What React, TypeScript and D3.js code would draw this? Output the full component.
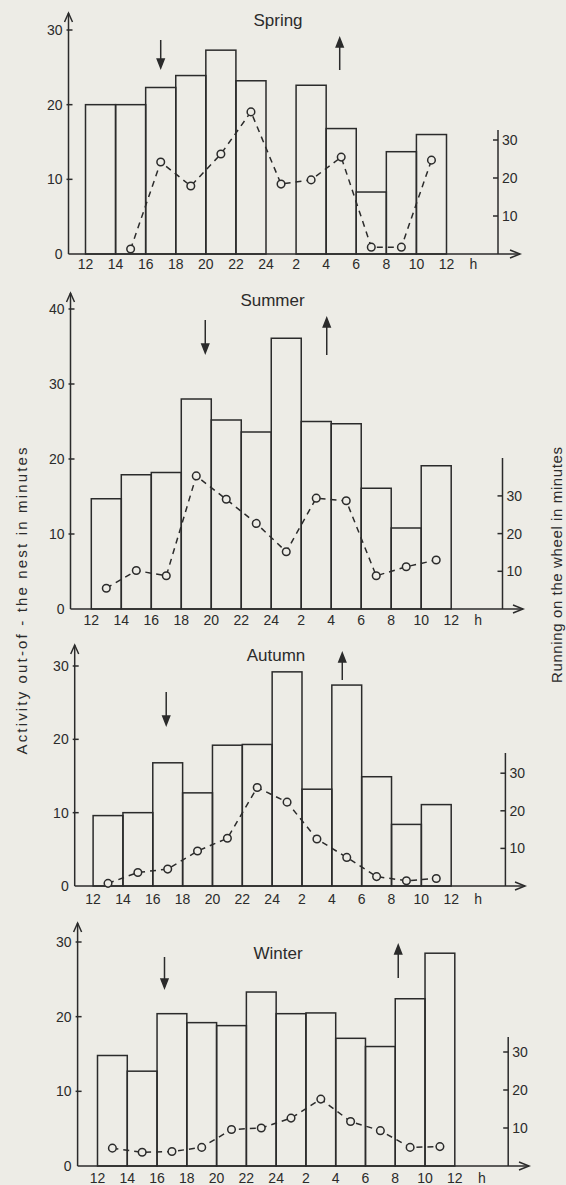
import { useEffect, useRef } from 'react';
import * as d3 from 'd3';

// x-axis labels, every 2 h starting at noon
const hourLabels = ['12', '14', '16', '18', '20', '22', '24', '2', '4', '6', '8', '10', '12'];

// activity out of the nest (bars, left axis), one value per 2-h bin
const springActivity = [20.0, 20.0, 22.3, 23.9, 27.3, 23.2, 0, 22.6, 16.8, 8.3, 13.7, 16.0];
const summerActivity = [14.7, 17.9, 18.2, 28.0, 25.2, 23.6, 36.1, 25.0, 24.7, 16.1, 10.8, 19.1];
const autumnActivity = [9.6, 10.0, 16.8, 12.7, 19.2, 19.3, 29.2, 13.2, 27.4, 14.9, 8.4, 11.1];
const winterActivity = [14.8, 12.7, 20.4, 19.2, 18.8, 23.3, 20.4, 20.5, 17.1, 16.0, 22.4, 28.5];

// running on the wheel (dashed line, right axis), bin midpoints
const springWheel = [null, 1.3, 24.2, 17.9, 26.3, 37.4, 18.4, 19.5, 25.5, 1.8, 1.8, 24.7];
const summerWheel = [5.5, 10.2, 8.8, 35.3, 29.1, 22.7, 15.2, 29.4, 28.7, 8.8, 11.2, 13.0];
const autumnWheel = [0.7, 3.6, 4.5, 9.3, 12.7, 26.2, 22.3, 12.5, 7.6, 2.5, 1.4, 2.0];
const winterWheel = [4.7, 3.6, 3.8, 4.9, 9.6, 10.0, 12.6, 17.6, 11.7, 9.3, 4.9, 5.1];

// sunset / sunrise, hours after noon
const springSun = [5.0, 16.9];
const summerSun = [7.6, 15.7];
const autumnSun = [4.9, 16.7];
const winterSun = [4.5, 20.2];

const leftTicks30 = [0, 10, 20, 30];
const leftTicks40 = [0, 10, 20, 30, 40];
const rightTicks = [10, 20, 30];

const bg = '#edece6';
const ink = '#2b2b2b';
const font = "'Liberation Sans Narrow', 'Liberation Sans', Arial, sans-serif";

type Panel = {
  title: string;
  activity: number[];
  wheel: (number | null)[];
  sun: number[];
  leftTicks: number[];
  axisX: number;
  x0: number;
  x1: number;
  base: number;
  topPx: number;
  axisTop: number;
  rightX: number;
  rightTop: number;
  rightPx: number;
  arrowEnd: number;
  labelDy: number;
  titleX: number;
  titleY: number;
  downY: [number, number];
  upY: [number, number];
};

const panels: Panel[] = [
  {
    title: 'Spring', activity: springActivity, wheel: springWheel, sun: springSun, leftTicks: leftTicks30,
    axisX: 68.5, x0: 85.5, x1: 446.5, base: 254, topPx: 30, axisTop: 13,
    rightX: 498, rightTop: 130, rightPx: 3.8, arrowEnd: 520, labelDy: 10, titleX: 278, titleY: 20,
    downY: [40, 68], upY: [38, 70],
  },
  {
    title: 'Summer', activity: summerActivity, wheel: summerWheel, sun: summerSun, leftTicks: leftTicks40,
    axisX: 70.5, x0: 91.3, x1: 451.2, base: 609, topPx: 309, axisTop: 293,
    rightX: 502.5, rightTop: 458, rightPx: 3.77, arrowEnd: 523, labelDy: 11, titleX: 272.5, titleY: 300,
    downY: [320, 353], upY: [318, 355],
  },
  {
    title: 'Autumn', activity: autumnActivity, wheel: autumnWheel, sun: autumnSun, leftTicks: leftTicks30,
    axisX: 74.7, x0: 93.1, x1: 451.2, base: 886, topPx: 666, axisTop: 645,
    rightX: 505.4, rightTop: 753, rightPx: 3.76, arrowEnd: 525, labelDy: 13, titleX: 276, titleY: 655,
    downY: [692, 725], upY: [653, 680],
  },
  {
    title: 'Winter', activity: winterActivity, wheel: winterWheel, sun: winterSun, leftTicks: leftTicks30,
    axisX: 77.6, x0: 97.5, x1: 454.8, base: 1166, topPx: 942, axisTop: 923,
    rightX: 508.2, rightTop: 1037, rightPx: 3.8, arrowEnd: 529, labelDy: 12.5, titleX: 278, titleY: 953,
    downY: [957, 988], upY: [945, 978],
  },
];

const svgWidth = 566;
const svgHeight = 1185;

function drawPanel(svg: d3.Selection<SVGSVGElement, unknown, null, undefined>, p: Panel) {
  const g = svg.append('g').attr('stroke', ink).attr('fill', 'none').attr('stroke-width', 1.5);

  const x = d3.scaleLinear().domain([0, 24]).range([p.x0, p.x1]);
  const leftMax = p.leftTicks[p.leftTicks.length - 1];
  const y = d3.scaleLinear().domain([0, leftMax]).range([p.base, p.topPx]);
  const yR = d3.scaleLinear().domain([0, 30]).range([p.base, p.base - 30 * p.rightPx]);

  // bars
  g.append('g')
    .selectAll('rect')
    .data(p.activity.map((v, i) => ({ v, i })).filter((d) => d.v > 0))
    .join('rect')
    .attr('x', (d) => x(d.i * 2))
    .attr('y', (d) => y(d.v))
    .attr('width', (d) => x(d.i * 2 + 2) - x(d.i * 2))
    .attr('height', (d) => y(0) - y(d.v));

  // left axis with open arrow
  g.append('line').attr('x1', p.axisX).attr('x2', p.axisX).attr('y1', p.base).attr('y2', p.axisTop);
  g.append('polyline').attr('points', `${p.axisX - 4},${p.axisTop + 9} ${p.axisX},${p.axisTop} ${p.axisX + 4},${p.axisTop + 9}`);
  g.append('g')
    .selectAll('line')
    .data(p.leftTicks.filter((t) => t > 0))
    .join('line')
    .attr('x1', p.axisX - 2)
    .attr('x2', p.axisX + 4)
    .attr('y1', (d) => y(d))
    .attr('y2', (d) => y(d));
  svg.append('g')
    .selectAll('text')
    .data(p.leftTicks)
    .join('text')
    .attr('x', p.axisX - 6)
    .attr('y', (d) => y(d))
    .attr('dy', '0.35em')
    .attr('text-anchor', 'end')
    .attr('font-family', font)
    .attr('font-size', 14)
    .attr('fill', ink)
    .text((d) => d);

  // x axis with open arrow
  g.append('line').attr('x1', p.axisX).attr('x2', p.arrowEnd).attr('y1', p.base).attr('y2', p.base);
  g.append('polyline').attr('points', `${p.arrowEnd - 10},${p.base - 4} ${p.arrowEnd},${p.base} ${p.arrowEnd - 10},${p.base + 4}`);
  svg.append('g')
    .selectAll('text')
    .data(hourLabels)
    .join('text')
    .attr('x', (_, i) => x(i * 2))
    .attr('y', p.base + p.labelDy)
    .attr('dy', '0.35em')
    .attr('text-anchor', 'middle')
    .attr('font-family', font)
    .attr('font-size', 14)
    .attr('fill', ink)
    .text((d) => d);
  svg.append('text')
    .attr('x', p.x1 + 27)
    .attr('y', p.base + p.labelDy)
    .attr('dy', '0.35em')
    .attr('text-anchor', 'middle')
    .attr('font-family', font)
    .attr('font-size', 14)
    .attr('fill', ink)
    .text('h');

  // right axis
  g.append('line').attr('x1', p.rightX).attr('x2', p.rightX).attr('y1', p.base).attr('y2', p.rightTop);
  g.append('g')
    .selectAll('line')
    .data(rightTicks)
    .join('line')
    .attr('x1', p.rightX - 5)
    .attr('x2', p.rightX)
    .attr('y1', (d) => yR(d))
    .attr('y2', (d) => yR(d));
  svg.append('g')
    .selectAll('text')
    .data(rightTicks)
    .join('text')
    .attr('x', p.rightX + 4)
    .attr('y', (d) => yR(d))
    .attr('dy', '0.35em')
    .attr('font-family', font)
    .attr('font-size', 14)
    .attr('fill', ink)
    .text((d) => d);

  // wheel running, dashed line with open circles
  const pts = p.wheel
    .map((v, i) => ({ v, i }))
    .filter((d) => d.v !== null) as { v: number; i: number }[];
  const line = d3
    .line<{ v: number; i: number }>()
    .x((d) => x(d.i * 2 + 1))
    .y((d) => yR(d.v));
  g.append('path').attr('d', line(pts)).attr('stroke-dasharray', '6,5');
  g.append('g')
    .selectAll('circle')
    .data(pts)
    .join('circle')
    .attr('cx', (d) => x(d.i * 2 + 1))
    .attr('cy', (d) => yR(d.v))
    .attr('r', 3.8)
    .attr('fill', bg);

  // sunset (down) and sunrise (up) arrows
  const [sunset, sunrise] = p.sun;
  const dx = x(sunset);
  g.append('line').attr('x1', dx).attr('x2', dx).attr('y1', p.downY[0]).attr('y2', p.downY[1] - 6);
  g.append('path')
    .attr('d', `M${dx - 3.5},${p.downY[1] - 9} L${dx + 3.5},${p.downY[1] - 9} L${dx},${p.downY[1]} Z`)
    .attr('fill', ink);
  const ux = x(sunrise);
  g.append('line').attr('x1', ux).attr('x2', ux).attr('y1', p.upY[1]).attr('y2', p.upY[0] + 6);
  g.append('path')
    .attr('d', `M${ux - 3.5},${p.upY[0] + 9} L${ux + 3.5},${p.upY[0] + 9} L${ux},${p.upY[0]} Z`)
    .attr('fill', ink);

  // title
  svg.append('text')
    .attr('x', p.titleX)
    .attr('y', p.titleY)
    .attr('dy', '0.35em')
    .attr('text-anchor', 'middle')
    .attr('font-family', font)
    .attr('font-size', 17)
    .attr('fill', ink)
    .text(p.title);
}

function App() {
  const ref = useRef<SVGSVGElement>(null);

  useEffect(() => {
    const svg = d3.select(ref.current as SVGSVGElement);
    svg.selectAll('*').remove();

    svg.append('rect').attr('width', svgWidth).attr('height', svgHeight).attr('fill', bg);

    panels.forEach((p) => drawPanel(svg, p));

    // shared axis titles
    svg.append('text')
      .attr('transform', 'translate(22, 601) rotate(-90)')
      .attr('text-anchor', 'middle')
      .attr('dy', '0.35em')
      .attr('font-family', font)
      .attr('font-size', 15)
      .attr('fill', ink)
      .attr('textLength', 307)
      .attr('lengthAdjust', 'spacing')
      .text('Activity out-of - the nest in minutes');
    svg.append('text')
      .attr('transform', 'translate(557, 565) rotate(-90)')
      .attr('text-anchor', 'middle')
      .attr('dy', '0.35em')
      .attr('font-family', font)
      .attr('font-size', 15)
      .attr('fill', ink)
      .attr('textLength', 236)
      .attr('lengthAdjust', 'spacing')
      .text('Running on the wheel in minutes');
  }, []);

  return (
    <svg
      ref={ref}
      width={svgWidth}
      height={svgHeight}
      style={{ position: 'absolute', left: 0, top: 0, display: 'block' }}
    ></svg>
  );
}

export default App;
